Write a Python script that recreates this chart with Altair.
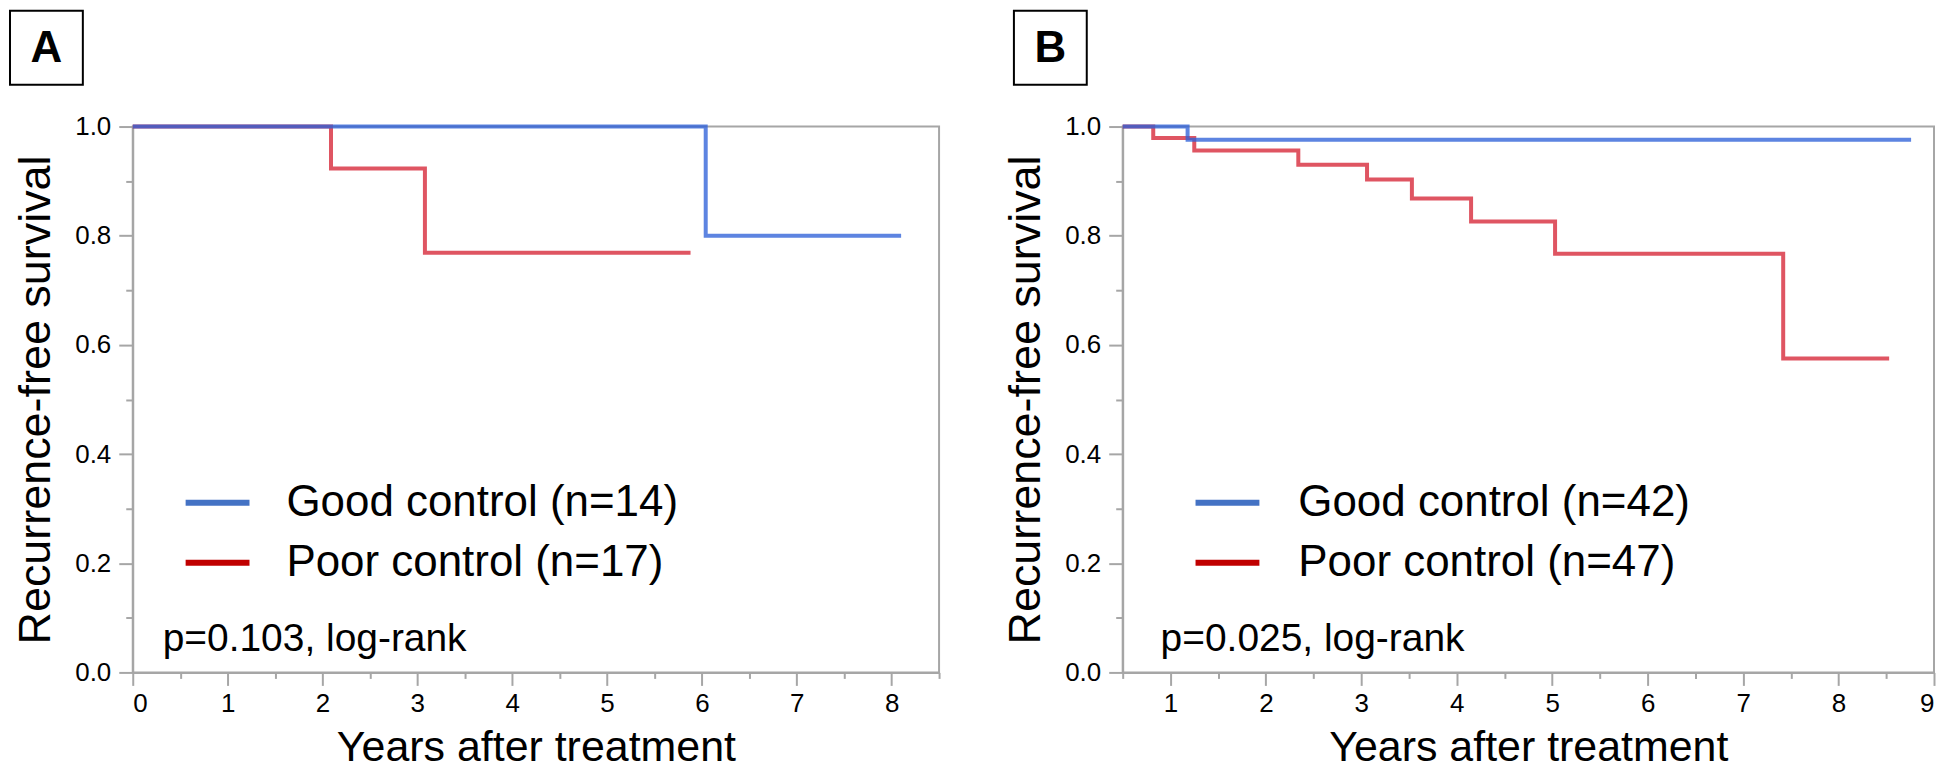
import altair as alt
import pandas as pd

# ---------------- data ----------------
# Panel A
a_good_t = [0.0, 6.04, 8.10]
a_good_s = [1.0, 0.80, 0.80]
a_poor_t = [0.0, 2.09, 3.08, 5.88]
a_poor_s = [1.0, 0.923, 0.769, 0.769]
# Panel B
b_good_t = [0.5, 1.18, 8.76]
b_good_s = [1.0, 0.976, 0.976]
b_poor_t = [0.5, 0.82, 1.25, 2.34, 3.06, 3.53, 4.15, 5.03, 7.42, 8.53]
b_poor_s = [1.0, 0.979, 0.956, 0.930, 0.903, 0.868, 0.826, 0.767, 0.575, 0.575]

a_labels = ["Good control (n=14)", "Poor control (n=17)"]
b_labels = ["Good control (n=42)", "Poor control (n=47)"]
a_ptext = "p=0.103, log-rank"
b_ptext = "p=0.025, log-rank"
panel_letters = ["A", "B"]

y_ticks = [0.0, 0.1, 0.2, 0.3, 0.4, 0.5, 0.6, 0.7, 0.8, 0.9, 1.0]
a_x_ticks = [0, 0.5, 1, 1.5, 2, 2.5, 3, 3.5, 4, 4.5, 5, 5.5, 6, 6.5, 7, 7.5, 8, 8.5]
b_x_ticks = [0.5, 1, 1.5, 2, 2.5, 3, 3.5, 4, 4.5, 5, 5.5, 6, 6.5, 7, 7.5, 8, 8.5, 9]
a_x_domain = [0, 8.5]
b_x_domain = [0.5, 9]

x_title = "Years after treatment"
y_title = "Recurrence-free survival"

# ---------------- styles ----------------
GOOD_LINE = "#2f62d8"
POOR_LINE = "#d8303f"
LEGEND_COLORS = ["#4472c4", "#c00000"]
GRAY = "#a6a6a6"
H = 547


def km_frame(t, s):
    return pd.DataFrame({"t": t, "s": s})


def panel(good_df, poor_df, xdom, xticks, labels, ptext, letter, width,
          leg_x, leg_text_x, p_x, box_x):
    one = pd.DataFrame({"k": [0]})
    x_axis = alt.Axis(
        values=xticks,
        format=".0f",
        labelExpr="datum.value % 1 === 0 ? datum.label : ''",
        tickSize={"condition": {"test": "datum.value % 1 === 0", "value": 13}, "value": 6},
        labelPadding=5,
        labelOverlap=False,
        grid=False,
        title=x_title,
        titleFontSize=43,
        titlePadding=10,
    )
    y_axis = alt.Axis(
        values=y_ticks,
        format=".1f",
        labelExpr="round(datum.value * 10) % 2 === 0 ? datum.label : ''",
        tickSize={"condition": {"test": "round(datum.value * 10) % 2 === 0", "value": 14},
                  "value": 7},
        labelPadding=8,
        labelOverlap=False,
        grid=False,
        title=y_title,
        titleFontSize=45,
        titlePadding=16,
    )
    xs = alt.Scale(domain=xdom, nice=False, zero=False)
    ys = alt.Scale(domain=[0, 1], nice=False)
    poor = alt.Chart(poor_df).mark_line(
        interpolate="step-after", strokeWidth=4, opacity=0.82, color=POOR_LINE
    ).encode(
        x=alt.X("t:Q", scale=xs, axis=x_axis),
        y=alt.Y("s:Q", scale=ys, axis=y_axis),
    )
    good = alt.Chart(good_df).mark_line(
        interpolate="step-after", strokeWidth=4, opacity=0.78, color=GOOD_LINE
    ).encode(
        x=alt.X("t:Q", scale=xs),
        y=alt.Y("s:Q", scale=ys),
    )
    layers = [poor, good]
    for i, (lab, col) in enumerate(zip(labels, LEGEND_COLORS)):
        yy = 377 + 60 * i
        ldf = pd.DataFrame({"label": [lab]})
        layers.append(
            alt.Chart(ldf).mark_rule(color=col, strokeWidth=6).encode(
                x=alt.value(leg_x), x2=alt.value(leg_x + 64), y=alt.value(yy)
            )
        )
        layers.append(
            alt.Chart(ldf).mark_text(align="left", baseline="middle", fontSize=44,
                                     font="Liberation Sans", color="black").encode(
                text="label:N", x=alt.value(leg_text_x), y=alt.value(yy)
            )
        )
    pdf = pd.DataFrame({"label": [ptext]})
    layers.append(
        alt.Chart(pdf).mark_text(align="left", baseline="middle", fontSize=39,
                                 font="Liberation Sans", color="black").encode(
            text="label:N", x=alt.value(p_x), y=alt.value(514)
        )
    )
    layers.append(
        alt.Chart(one).mark_rect(fill="white", stroke="black", strokeWidth=2).encode(
            x=alt.value(box_x), x2=alt.value(box_x + 73), y=alt.value(-116), y2=alt.value(-42)
        )
    )
    ldf2 = pd.DataFrame({"label": [letter]})
    layers.append(
        alt.Chart(ldf2).mark_text(align="center", baseline="middle", fontSize=44, fontWeight="bold",
                                  font="Liberation Sans", color="black").encode(
            text="label:N", x=alt.value(box_x + 36.5), y=alt.value(-78)
        )
    )
    return alt.layer(*layers).properties(width=width, height=H)


pa = panel(km_frame(a_good_t, a_good_s), km_frame(a_poor_t, a_poor_s),
           a_x_domain, a_x_ticks, a_labels, a_ptext, panel_letters[0], 808,
           53, 154, 30, -123)
pb = panel(km_frame(b_good_t, b_good_s), km_frame(b_poor_t, b_poor_s),
           b_x_domain, b_x_ticks, b_labels, b_ptext, panel_letters[1], 813,
           73, 176, 38, -109)

chart = alt.hconcat(pa, pb, spacing=61).properties(
    padding={"left": 0, "top": 0, "right": 0, "bottom": 0}
).configure_axis(
    domainColor=GRAY, domainWidth=2, tickColor=GRAY, tickWidth=2,
    labelFont="Liberation Sans", labelFontSize=26, labelColor="black",
    titleFont="Liberation Sans", titleFontWeight="normal", titleColor="black",
).configure_view(stroke=GRAY, strokeWidth=2)

chart.save("out.html", embed_options={"renderer": "svg", "actions": False})
